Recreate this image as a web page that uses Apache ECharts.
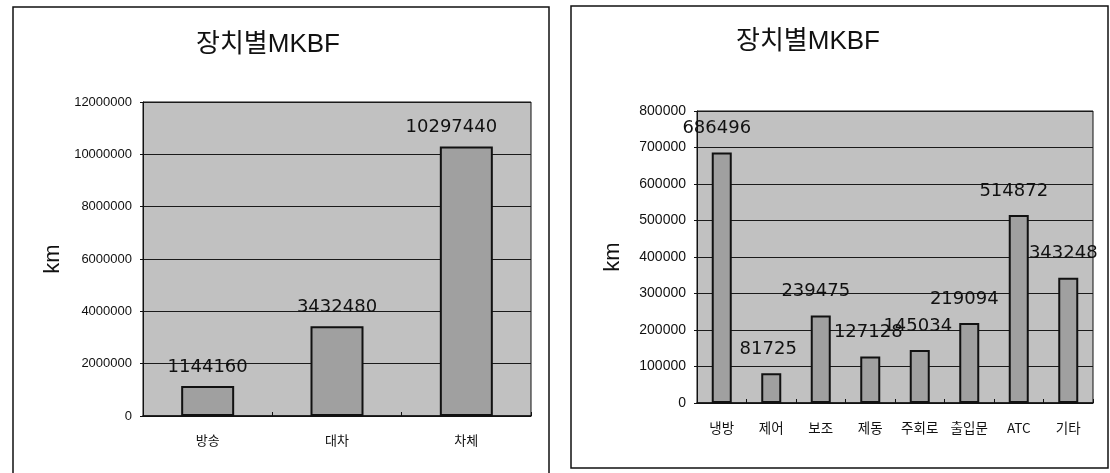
<!DOCTYPE html>
<html>
<head>
<meta charset="utf-8">
<script src="https://cdn.jsdelivr.net/npm/echarts@6/dist/echarts.min.js"></script>
<style>
  html, body { margin: 0; padding: 0; background: #fff; }
  #chart { width: 1110px; height: 473px; }
</style>
</head>
<body>
<div id="chart"></div>
<script>
// MKBF (mean km between failures) by equipment group
const chartTitle = '장치별MKBF';
const unitName = 'km';

// Left panel: major assemblies
const groupCategories = ['방송', '대차', '차체'];
const groupValues = [1144160, 3432480, 10297440];

// Right panel: subsystems
const systemCategories = ['냉방', '제어', '보조', '제동', '주회로', '출입문', 'ATC', '기타'];
const systemValues = [686496, 81725, 239475, 127128, 145034, 219094, 514872, 343248];

// horizontal nudges for value labels (pixels), kept apart from the data
const groupLabelShift = [0, 0, -15];
const systemLabelShift = [-5, -3, -5, -2, -2, -5, -5, -5];

const FONT_LATIN = '"Liberation Sans", Arial, "Noto Sans CJK KR", sans-serif';
const FONT_KR = '"Noto Sans CJK KR", "Liberation Sans", sans-serif';
const FONT_LABEL = '"DejaVu Sans", "Liberation Sans", sans-serif';

const plotFill = '#c1c1c1';
const barFill = '#a0a0a0';

const chart = echarts.init(document.getElementById('chart'), null, { renderer: 'canvas' });

function valueAxis(gridIndex, max, interval, nameGap, labelSize) {
  return {
    type: 'value',
    gridIndex,
    min: 0,
    max,
    interval,
    name: unitName,
    nameLocation: 'middle',
    nameRotate: 90,
    nameGap,
    nameTextStyle: { fontFamily: FONT_LATIN, fontSize: 22, color: '#111' },
    axisLine: { show: true, lineStyle: { color: '#111', width: 1 } },
    axisTick: { show: true, length: 3, lineStyle: { color: '#111' } },
    axisLabel: {
      margin: 11,
      fontFamily: FONT_LATIN,
      fontSize: labelSize,
      color: '#111',
      formatter: v => String(v)
    },
    splitLine: { show: true, lineStyle: { color: '#1a1a1a', width: 1 } }
  };
}

function categoryAxis(gridIndex, data, labelSize) {
  return {
    type: 'category',
    gridIndex,
    data,
    axisLine: { show: true, lineStyle: { color: '#111', width: 1.5 } },
    axisTick: { show: true, inside: true, length: 4, lineStyle: { color: '#111' } },
    axisLabel: {
      margin: 18,
      fontFamily: FONT_KR,
      fontSize: labelSize,
      color: '#111'
    },
    splitLine: { show: false }
  };
}

function barSeries(axisIndex, values, shifts, barWidth, labelDistance) {
  return {
    type: 'bar',
    xAxisIndex: axisIndex,
    yAxisIndex: axisIndex,
    data: values.map((v, i) => ({ value: v, label: { offset: [shifts[i], 0] } })),
    barWidth,
    itemStyle: { color: barFill, borderColor: '#111', borderWidth: 2 },
    label: {
      show: true,
      position: 'top',
      distance: labelDistance,
      fontFamily: FONT_LABEL,
      fontSize: 18,
      color: '#111',
      formatter: p => String(p.value)
    },
    emphasis: { disabled: true },
    animation: false
  };
}

const option = {
  backgroundColor: '#ffffff',
  animation: false,
  grid: [
    { left: 143, top: 102, width: 388, height: 314, show: true,
      backgroundColor: plotFill, borderColor: '#111', borderWidth: 1 },
    { left: 697, top: 111, width: 396, height: 292, show: true,
      backgroundColor: plotFill, borderColor: '#111', borderWidth: 1 }
  ],
  xAxis: [
    categoryAxis(0, groupCategories, 13),
    categoryAxis(1, systemCategories, 13.5)
  ],
  yAxis: [
    valueAxis(0, 12000000, 2000000, 79, 13),
    valueAxis(1, 800000, 100000, 73, 14)
  ],
  series: [
    barSeries(0, groupValues, groupLabelShift, 53, 10),
    barSeries(1, systemValues, systemLabelShift, 20, 15)
  ],
  graphic: [
    // panel frames
    { type: 'rect', shape: { x: 13, y: 7, width: 536, height: 475 },
      style: { fill: 'none', stroke: '#111', lineWidth: 1.5 }, silent: true },
    { type: 'rect', shape: { x: 571, y: 6, width: 537, height: 462 },
      style: { fill: 'none', stroke: '#111', lineWidth: 1.5 }, silent: true },
    // panel titles
    { type: 'text', x: 268, y: 45,
      style: { text: chartTitle, fill: '#111', font: '26px ' + FONT_LATIN,
               textAlign: 'center', textVerticalAlign: 'middle' }, silent: true },
    { type: 'text', x: 808, y: 42,
      style: { text: chartTitle, fill: '#111', font: '26px ' + FONT_LATIN,
               textAlign: 'center', textVerticalAlign: 'middle' }, silent: true }
  ]
};

chart.setOption(option);
</script>
</body>
</html>
